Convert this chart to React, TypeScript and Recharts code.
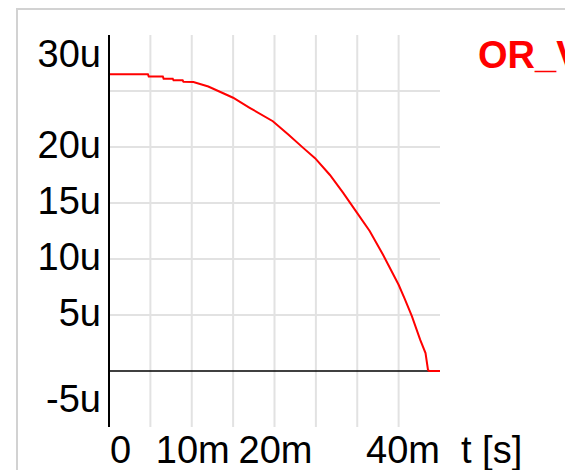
import { LineChart, Line, XAxis, YAxis, ReferenceLine, Legend, Label } from 'recharts';

const FONT = "'Liberation Sans', Arial, Helvetica, sans-serif";

// time in ms, value in µ
const times = [0, 4.7, 4.8, 6.5, 6.6, 7.7, 7.8, 8.9, 9.0, 10.2, 12, 13.8, 15, 17, 19.8, 21.7, 23.5, 24.9, 26.7, 28.3, 30, 31.5, 33.1, 35, 35.7, 36.6, 37.6, 38.25, 38.55, 38.7, 40];
const values = [26.5, 26.5, 26.3, 26.3, 26.1, 26.1, 25.95, 25.95, 25.83, 25.8, 25.4, 24.8, 24.4, 23.5, 22.3, 21.1, 19.9, 19.0, 17.5, 15.9, 14.1, 12.5, 10.4, 7.7, 6.5, 4.9, 2.8, 1.6, 0.1, 0, 0];

const yTicks = [30, 20, 15, 10, 5, -5];
const xTicks = [0, 10, 20, 40];
const yGrid = [5, 10, 15, 20, 25];
const xGrid = [5, 10, 15, 20, 25, 30, 35];
const seriesName = 'OR_V';

const data = times.map((t, i) => ({ t, v: values[i] }));

const fmtU = (v: number) => `${v}u`;
const fmtM = (v: number) => (v === 0 ? '0' : `${v}m`);

const YTick = (props: any) => {
  const { x, y, payload } = props;
  const v = payload.value;
  let dy = 11;
  if (v === yTicks[0]) dy = 32;
  else if (v === yTicks[yTicks.length - 1]) dy = -15;
  return (
    <text x={x} y={y + dy} textAnchor="end" fontSize={38} fontFamily={FONT} fill="#000">
      {fmtU(v)}
    </text>
  );
};

const XTick = (props: any) => {
  const { x, y, payload } = props;
  const v = payload.value;
  let anchor: 'start' | 'middle' | 'end' = 'middle';
  let dx = 1;
  if (v === 0) {
    anchor = 'start';
    dx = 1;
  } else if (v === xTicks[xTicks.length - 1]) {
    anchor = 'end';
    dx = 0;
  }
  return (
    <text x={x + dx} y={y + 36} textAnchor={anchor} fontSize={38} fontFamily={FONT} fill="#000">
      {fmtM(v)}
    </text>
  );
};

const renderLegend = (props: any) => {
  const item = props.payload?.[0];
  return (
    <div style={{ color: item?.color || '#ff0000', fontWeight: 'bold', fontSize: 38, lineHeight: '38px', fontFamily: FONT, whiteSpace: 'nowrap' }}>
      {item?.value}
    </div>
  );
};

export default function App() {
  return (
    <div style={{ position: 'absolute', left: 0, top: 0, width: 565, height: 470, overflow: 'hidden', background: '#fff' }}>
      <div style={{ position: 'absolute', left: 16, top: 8, width: 700, height: 700, border: '2px solid #d2d2d2' }} />
      <div style={{ position: 'absolute', left: 0, top: 0 }}>
        <LineChart width={565} height={470} data={data} margin={{ top: 35, right: 125, left: 0, bottom: 0 }}>
          {yGrid.map((g) => (
            <ReferenceLine key={`h${g}`} y={g} stroke="#e2e2e2" strokeWidth={2} />
          ))}
          {xGrid.map((g) => (
            <ReferenceLine key={`v${g}`} x={g} stroke="#e2e2e2" strokeWidth={2} />
          ))}
          <ReferenceLine y={0} stroke="#000" strokeWidth={1.5} />
          <XAxis
            dataKey="t"
            type="number"
            domain={[0, 40]}
            ticks={xTicks}
            interval={0}
            height={43}
            axisLine={false}
            tickLine={false}
            tickSize={0}
            tickMargin={0}
            tick={<XTick />}
          >
            <Label
              content={(p: any) => (
                <text x={p.viewBox.x + p.viewBox.width + 21} y={463} fontSize={38} fontFamily={FONT} fill="#000">
                  t [s]
                </text>
              )}
            />
          </XAxis>
          <YAxis
            type="number"
            domain={[-5, 30]}
            ticks={yTicks}
            interval={0}
            width={109}
            axisLine={{ stroke: '#000', strokeWidth: 2 }}
            tickLine={false}
            tickSize={0}
            tickMargin={8}
            tick={<YTick />}
          />
          <Legend
            layout="vertical"
            align="center"
            verticalAlign="middle"
            content={renderLegend}
            wrapperStyle={{ position: 'absolute', left: 478, top: 36, width: 200 }}
          />
          <Line type="linear" dataKey="v" name={seriesName} stroke="#ff0000" strokeWidth={2} dot={false} isAnimationActive={false} />
        </LineChart>
      </div>
    </div>
  );
}
